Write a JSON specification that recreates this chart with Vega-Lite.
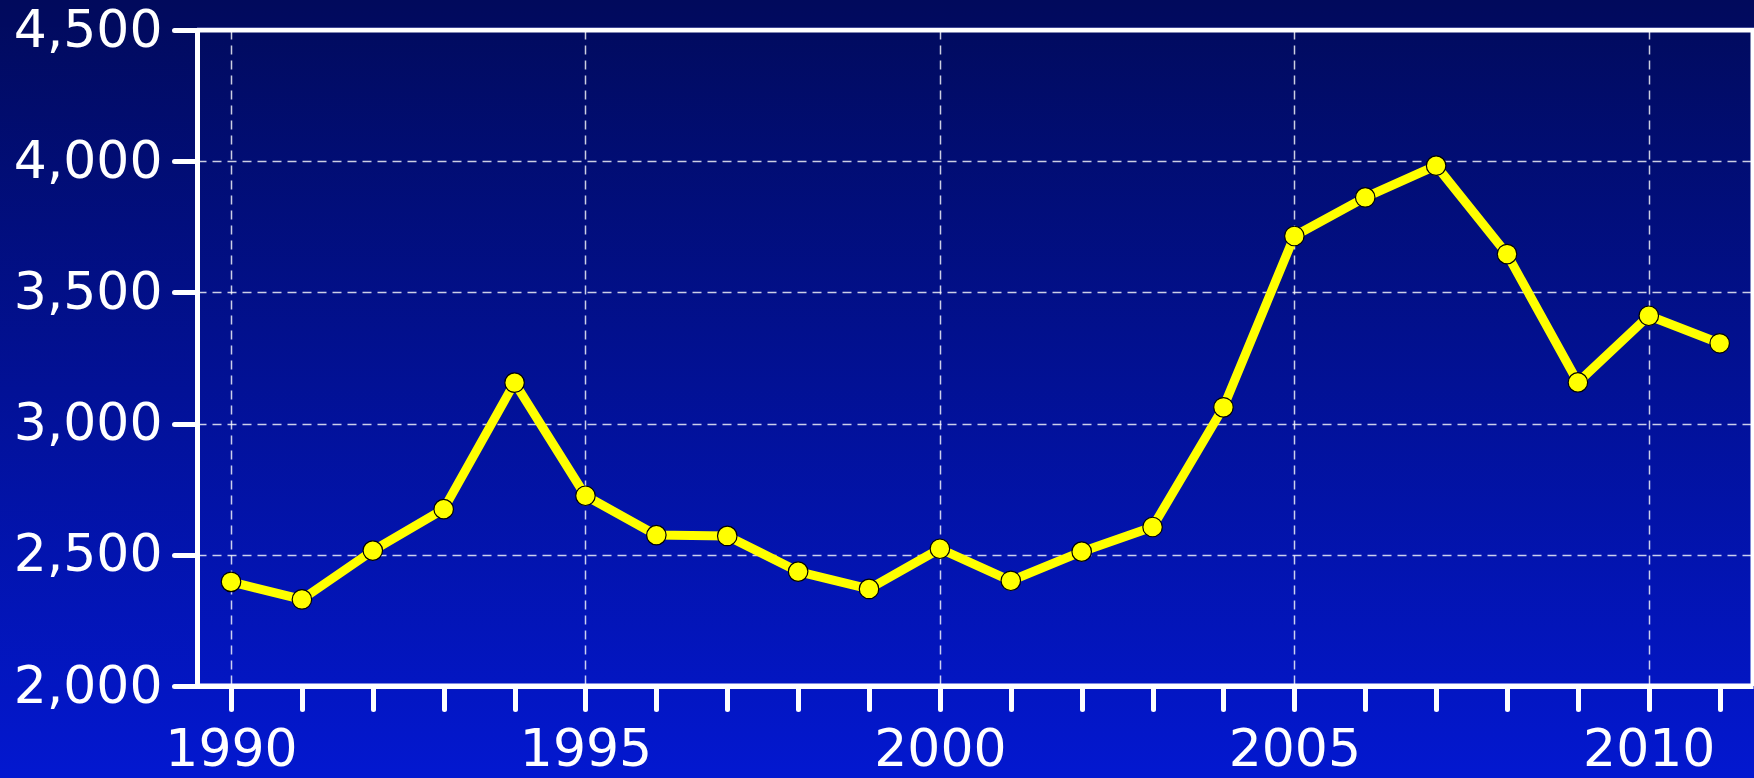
{
  "$schema": "https://vega.github.io/schema/vega-lite/v6.json",
  "autosize": {"type": "none"},
  "padding": {"left": 197, "top": 30, "right": 1, "bottom": 92},
  "width": 1556,
  "height": 656,
  "background": "#02109a",
  "view": {
    "fill": {"gradient": "linear", "x1": 0, "y1": 0, "x2": 0, "y2": 1, "stops": [{"offset": 0, "color": "#010b60"}, {"offset": 1, "color": "#0316c2"}]},
    "stroke": "white",
    "strokeWidth": 5
  },
  "config": {"font": "DejaVu Sans"},
  "datasets": {
    "series": [
      {"year": 1990, "value": 2397},
      {"year": 1991, "value": 2330},
      {"year": 1992, "value": 2516},
      {"year": 1993, "value": 2674},
      {"year": 1994, "value": 3156},
      {"year": 1995, "value": 2725},
      {"year": 1996, "value": 2575},
      {"year": 1997, "value": 2572},
      {"year": 1998, "value": 2436},
      {"year": 1999, "value": 2370},
      {"year": 2000, "value": 2523},
      {"year": 2001, "value": 2401},
      {"year": 2002, "value": 2512},
      {"year": 2003, "value": 2606},
      {"year": 2004, "value": 3062},
      {"year": 2005, "value": 3715},
      {"year": 2006, "value": 3862},
      {"year": 2007, "value": 3983},
      {"year": 2008, "value": 3646},
      {"year": 2009, "value": 3157},
      {"year": 2010, "value": 3411},
      {"year": 2011, "value": 3306}
    ]
  },
  "layer": [
    {
      "data": {"values": [{}]},
      "mark": {"type": "rect", "clip": false, "fill": {"gradient": "linear", "x1": 0, "y1": 0, "x2": 0, "y2": 1, "stops": [{"offset": 0, "color": "#010a5c"}, {"offset": 1, "color": "#0318d0"}]}},
      "encoding": {
        "x": {"datum": 1980, "type": "quantitative", "scale": {"domain": [1989.52, 2011.47], "nice": false, "zero": false}, "axis": null},
        "x2": {"datum": 1989.52},
        "y": {"datum": 1649.4, "type": "quantitative", "scale": {"domain": [2000, 4500], "nice": false, "zero": false}, "axis": null},
        "y2": {"datum": 4614.3}
      }
    },
    {
      "data": {"values": [{}]},
      "mark": {"type": "rect", "clip": false, "fill": {"gradient": "linear", "x1": 0, "y1": 0, "x2": 0, "y2": 1, "stops": [{"offset": 0, "color": "#010a5c"}, {"offset": 1, "color": "#010a60"}]}},
      "encoding": {
        "x": {"datum": 1980, "type": "quantitative", "scale": {"domain": [1989.52, 2011.47], "nice": false, "zero": false}, "axis": null},
        "x2": {"datum": 2020},
        "y": {"datum": 4509.5, "type": "quantitative", "scale": {"domain": [2000, 4500], "nice": false, "zero": false}, "axis": null},
        "y2": {"datum": 4614.3}
      }
    },
    {
      "data": {"values": [{}]},
      "mark": {"type": "rect", "clip": false, "fill": {"gradient": "linear", "x1": 0, "y1": 0, "x2": 0, "y2": 1, "stops": [{"offset": 0, "color": "#0316c2"}, {"offset": 1, "color": "#0318d0"}]}},
      "encoding": {
        "x": {"datum": 1980, "type": "quantitative", "scale": {"domain": [1989.52, 2011.47], "nice": false, "zero": false}, "axis": null},
        "x2": {"datum": 2020},
        "y": {"datum": 1649.4, "type": "quantitative", "scale": {"domain": [2000, 4500], "nice": false, "zero": false}, "axis": null},
        "y2": {"datum": 2000}
      }
    },
    {
      "data": {"name": "series"},
      "mark": {"type": "line", "color": "#ffff00", "strokeWidth": 9, "strokeJoin": "round", "clip": false},
      "encoding": {
        "x": {
          "field": "year", "type": "quantitative",
          "scale": {"domain": [1989.52, 2011.47], "nice": false, "zero": false},
          "axis": {"orient": "bottom", "zindex": 0, "values": [1990, 1995, 2000, 2005, 2010], "grid": true, "gridColor": "white", "gridOpacity": 0.8, "gridWidth": 1.5, "gridDash": [9, 6], "domain": false, "ticks": false, "labels": false, "title": null}
        },
        "y": {
          "field": "value", "type": "quantitative",
          "scale": {"domain": [2000, 4500], "nice": false, "zero": false},
          "axis": {"orient": "left", "zindex": 0, "values": [2500, 3000, 3500, 4000], "grid": true, "gridColor": "white", "gridOpacity": 0.8, "gridWidth": 1.5, "gridDash": [9, 6], "domain": false, "ticks": false, "labels": false, "title": null}
        }
      }
    },
    {
      "data": {"name": "series"},
      "mark": {"type": "point", "shape": "circle", "filled": true, "fill": "#ffff00", "stroke": "black", "strokeWidth": 1.2, "size": 380, "opacity": 1, "clip": false},
      "encoding": {
        "x": {
          "field": "year", "type": "quantitative",
          "scale": {"domain": [1989.52, 2011.47], "nice": false, "zero": false},
          "axis": {"orient": "bottom", "zindex": 1, "grid": false, "title": null,
            "values": [1990, 1991, 1992, 1993, 1994, 1995, 1996, 1997, 1998, 1999, 2000, 2001, 2002, 2003, 2004, 2005, 2006, 2007, 2008, 2009, 2010, 2011],
            "labelExpr": "datum.value % 5 === 0 ? format(datum.value, 'd') : ''",
            "labelFlush": false, "labelOverlap": false, "labelLimit": 400,
            "domainColor": "white", "domainWidth": 5,
            "tickColor": "white", "tickWidth": 5, "tickSize": 23, "tickCap": "round",
            "labelColor": "white", "labelFontSize": 52, "labelFont": "DejaVu Sans", "labelPadding": 15}
        },
        "y": {
          "field": "value", "type": "quantitative",
          "scale": {"domain": [2000, 4500], "nice": false, "zero": false},
          "axis": {"orient": "left", "zindex": 1, "grid": false, "title": null,
            "values": [2000, 2500, 3000, 3500, 4000, 4500],
            "labelExpr": "format(datum.value, ',')",
            "labelFlush": false, "labelOverlap": false, "labelLimit": 400,
            "domainColor": "white", "domainWidth": 5,
            "tickColor": "white", "tickWidth": 5, "tickSize": 23, "tickCap": "round",
            "labelColor": "white", "labelFontSize": 52, "labelFont": "DejaVu Sans", "labelPadding": 12}
        }
      }
    }
  ],
  "resolve": {"axis": {"x": "independent", "y": "independent"}}
}
